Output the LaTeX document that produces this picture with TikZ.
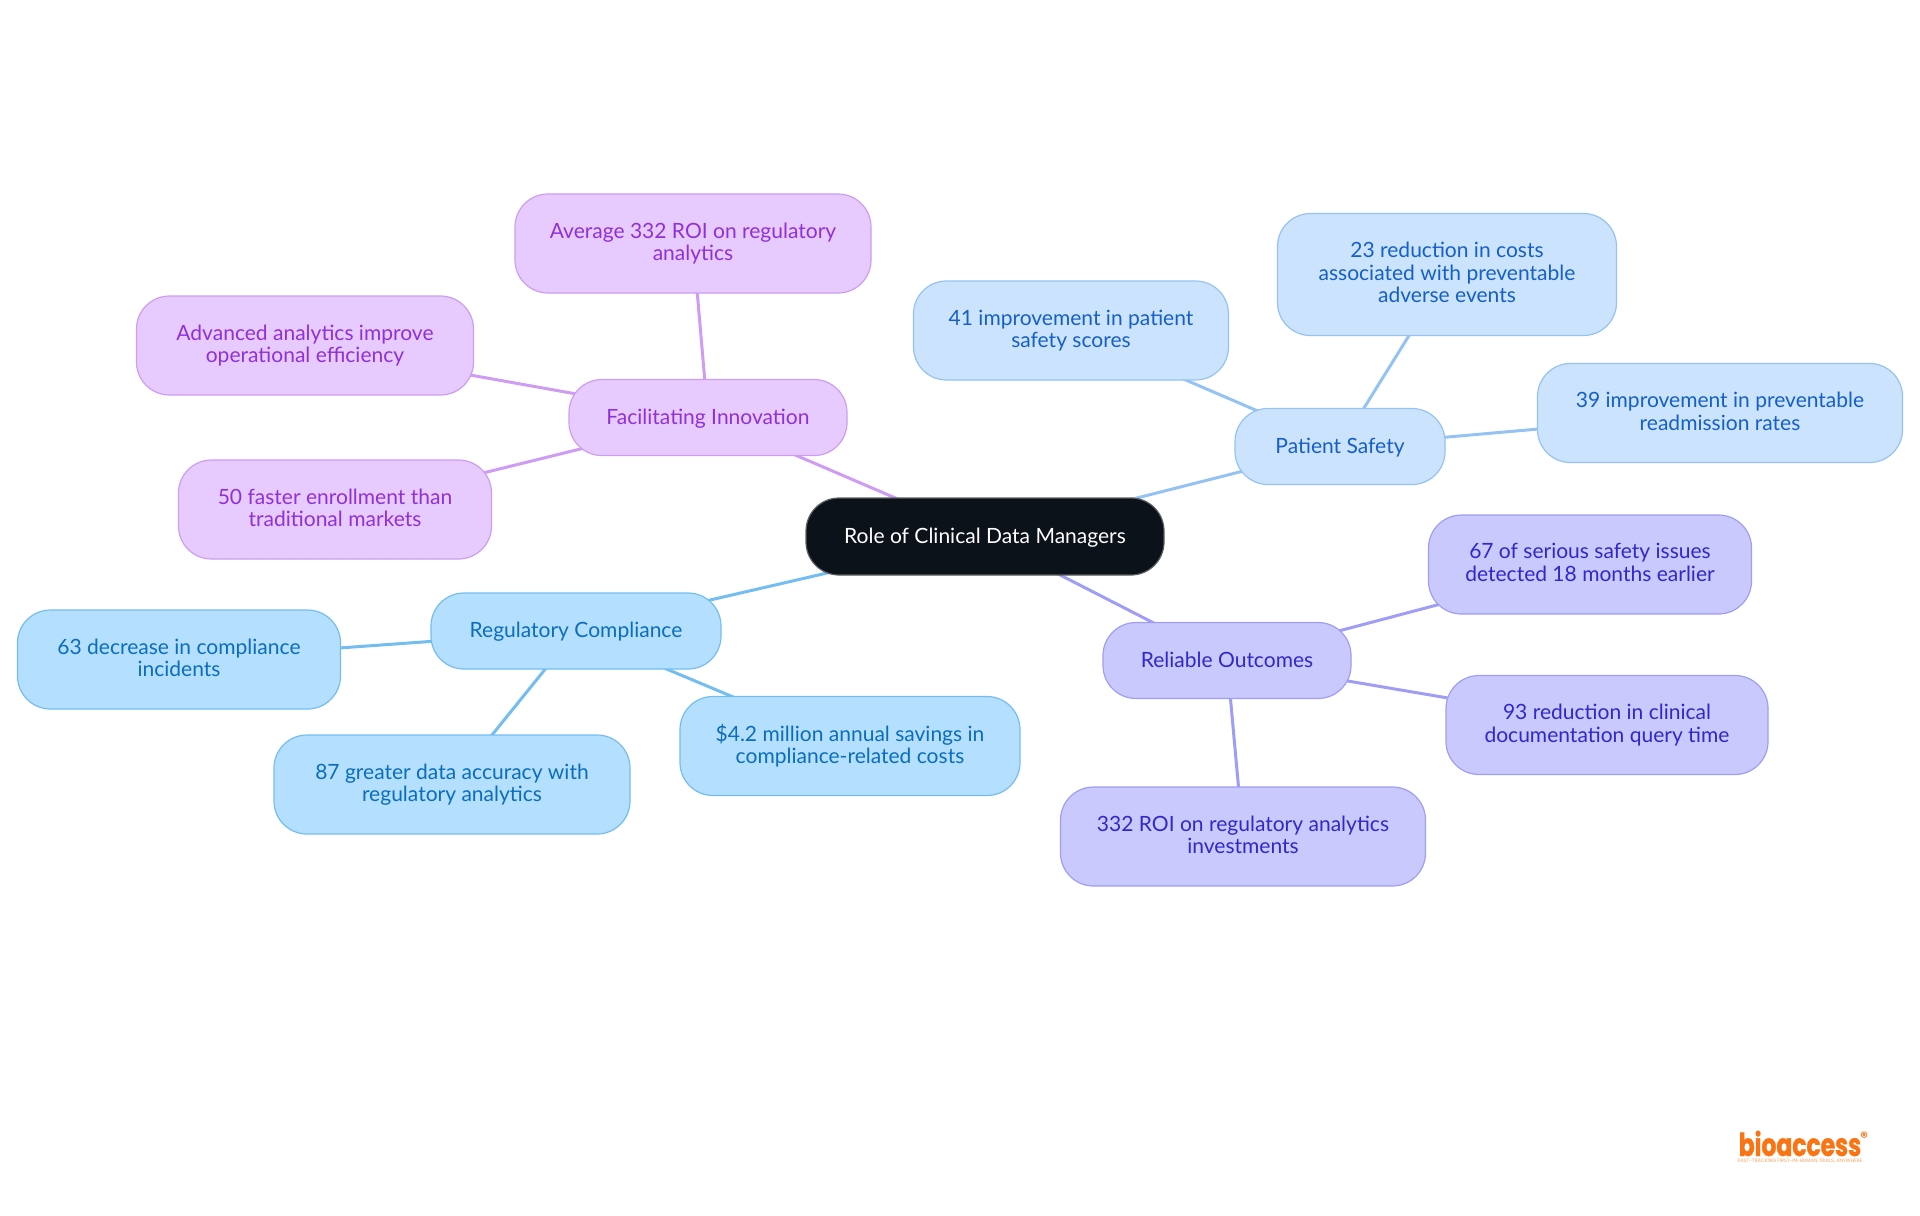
\documentclass[tikz,border=0pt]{standalone}
\usepackage{fontspec}
\setmainfont{Lato}
\newfontfamily\logofont[FakeStretch=0.74,FakeBold=1]{Poppins}
\newfontfamily\tagfont{Poppins}
\usetikzlibrary{backgrounds}
\definecolor{rootfill}{HTML}{0C121A}
\definecolor{safefill}{HTML}{CCE3FD}
\definecolor{safeline}{HTML}{94C3F3}
\definecolor{safetext}{HTML}{1560C8}
\definecolor{outcfill}{HTML}{C9C9FE}
\definecolor{outcline}{HTML}{A09DF5}
\definecolor{outctext}{HTML}{3029C9}
\definecolor{regufill}{HTML}{B5DFFF}
\definecolor{reguline}{HTML}{74BDF0}
\definecolor{regutext}{HTML}{0A6EBD}
\definecolor{innofill}{HTML}{E7CBFE}
\definecolor{innoline}{HTML}{CE9CF2}
\definecolor{innotext}{HTML}{9130D8}
\definecolor{logoorange}{HTML}{FA7414}
\tikzset{
	mapbox/.style={draw, rounded corners=0.33cm, inner sep=0pt, align=center, line width=0.012cm,
		font=\fontsize{5.98}{6.42}\selectfont,
		execute at begin node=\rule{0pt}{0.84em}, execute at end node=\vphantom{Ag}},
	branchsize/.style={minimum height=0.76cm},
	leafsize/.style={minimum height=0.99cm, execute at begin node=\rule{0pt}{0.95em}},
	tallsize/.style={minimum height=1.22cm, execute at begin node=\rule{0pt}{0.95em}},
	rootbox/.style={mapbox, fill=rootfill, draw=gray!70!rootfill, text=white, minimum width=3.58cm, minimum height=0.77cm},
	safebox/.style={mapbox, fill=safefill, draw=safeline, text=safetext},
	outcbox/.style={mapbox, fill=outcfill, draw=outcline, text=outctext},
	regubox/.style={mapbox, fill=regufill, draw=reguline, text=regutext},
	innobox/.style={mapbox, fill=innofill, draw=innoline, text=innotext},
	link/.style={line width=0.03cm}
}

\begin{document}
\begin{tikzpicture}[y=-1cm]
		%%%%% START %%%%%
		\useasboundingbox (0, 0) rectangle (19.2, 12.15);
		
		\node[rootbox] (root) at (9.85, 5.365) {Role of Clinical Data Managers};
		
		\node[safebox, branchsize, minimum width=2.10cm] (safety) at (13.40, 4.465) {Patient Safety};
		\node[safebox, leafsize, minimum width=3.15cm] (safetyA) at (10.71, 3.305) {41 improvement in patient\\safety scores};
		\node[safebox, tallsize, minimum width=3.39cm] (safetyB) at (14.47, 2.745) {23 reduction in costs\\associated with preventable\\adverse events};
		\node[safebox, leafsize, minimum width=3.65cm] (safetyC) at (17.20, 4.13) {39 improvement in preventable\\readmission rates};
		
		\node[outcbox, branchsize, minimum width=2.48cm] (outcome) at (12.27, 6.605) {Reliable Outcomes};
		\node[outcbox, leafsize, minimum width=3.23cm] (outcomeA) at (15.90, 5.645) {67 of serious safety issues\\detected 18 months earlier};
		\node[outcbox, leafsize, minimum width=3.22cm] (outcomeB) at (16.07, 7.25) {93 reduction in clinical\\documentation query time};
		\node[outcbox, leafsize, minimum width=3.65cm] (outcomeC) at (12.43, 8.365) {332 ROI on regulatory analytics\\investments};
		
		\node[regubox, branchsize, minimum width=2.90cm] (comply) at (5.76, 6.31) {Regulatory Compliance};
		\node[regubox, leafsize, minimum width=3.23cm] (complyA) at (1.79, 6.595) {63 decrease in compliance\\incidents};
		\node[regubox, leafsize, minimum width=3.56cm] (complyB) at (4.52, 7.845) {87 greater data accuracy with\\regulatory analytics};
		\node[regubox, leafsize, minimum width=3.40cm] (complyC) at (8.50, 7.46) {\$4.2 million annual savings in\\compliance-related costs};
		
		\node[innobox, branchsize, minimum width=2.78cm] (innov) at (7.08, 4.175) {Facilitating Innovation};
		\node[innobox, leafsize, minimum width=3.56cm] (innovA) at (6.93, 2.435) {Average 332 ROI on regulatory\\analytics};
		\node[innobox, leafsize, minimum width=3.37cm] (innovB) at (3.05, 3.455) {Advanced analytics improve\\operational efficiency};
		\node[innobox, leafsize, minimum width=3.13cm] (innovC) at (3.35, 5.095) {50 faster enrollment than\\traditional markets};
		
		\begin{scope}[on background layer]
			\draw[link, safeline] (root.center) -- (safety.center);
			\draw[link, safeline] (safety.center) -- (safetyA.center);
			\draw[link, safeline] (safety.center) -- (safetyB.center);
			\draw[link, safeline] (safety.center) -- (safetyC.center);
			
			\draw[link, outcline] (root.center) -- (outcome.center);
			\draw[link, outcline] (outcome.center) -- (outcomeA.center);
			\draw[link, outcline] (outcome.center) -- (outcomeB.center);
			\draw[link, outcline] (outcome.center) -- (outcomeC.center);
			
			\draw[link, reguline] (root.center) -- (comply.center);
			\draw[link, reguline] (comply.center) -- (complyA.center);
			\draw[link, reguline] (comply.center) -- (complyB.center);
			\draw[link, reguline] (comply.center) -- (complyC.center);
			
			\draw[link, innoline] (root.center) -- (innov.center);
			\draw[link, innoline] (innov.center) -- (innovA.center);
			\draw[link, innoline] (innov.center) -- (innovB.center);
			\draw[link, innoline] (innov.center) -- (innovC.center);
		\end{scope}
		
		\node[text=logoorange, inner sep=0pt, anchor=base west, font=\logofont\bfseries\fontsize{9.0}{9.0}\selectfont] (logo) at (17.38, 11.56) {bioaccess\hspace{-0.2pt}\raisebox{0.75ex}{\tagfont\fontsize{4.2}{4.2}\selectfont\textregistered}};
		\node[text=logoorange!70, inner sep=0pt, font=\tagfont\fontsize{1.4}{1.4}\selectfont] (tagline) at (18.0, 11.61) {FAST-TRACKING FIRST-IN-HUMAN TRIALS, ANYWHERE};
		%%%%% END %%%%%
	\end{tikzpicture}
\end{document}
